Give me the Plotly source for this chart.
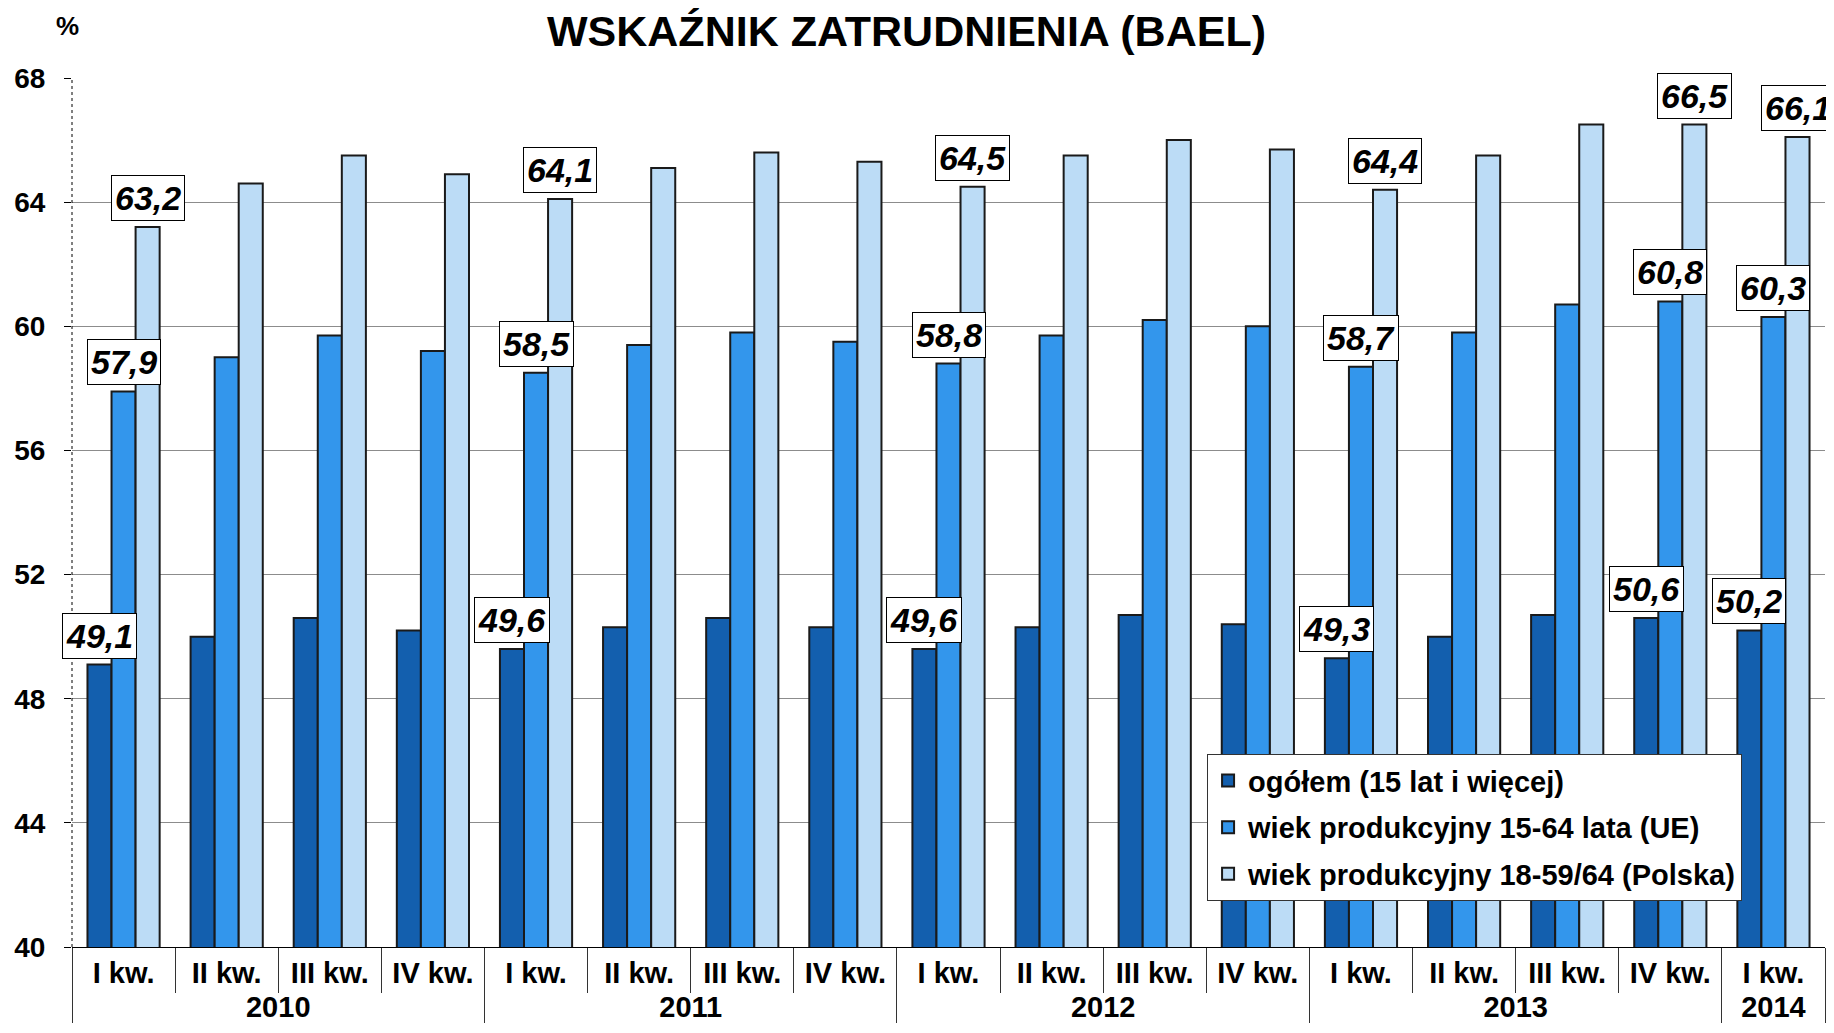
import plotly.graph_objects as go

years = ["2010"] * 4 + ["2011"] * 4 + ["2012"] * 4 + ["2013"] * 4 + ["2014"]
quarters = ["I kw.", "II kw.", "III kw.", "IV kw."] * 4 + ["I kw."]

ogolem = [49.1, 50.0, 50.6, 50.2, 49.6, 50.3, 50.6, 50.3, 49.6, 50.3, 50.7, 50.4, 49.3, 50.0, 50.7, 50.6, 50.2]
ue = [57.9, 59.0, 59.7, 59.2, 58.5, 59.4, 59.8, 59.5, 58.8, 59.7, 60.2, 60.0, 58.7, 59.8, 60.7, 60.8, 60.3]
polska = [63.2, 64.6, 65.5, 64.9, 64.1, 65.1, 65.6, 65.3, 64.5, 65.5, 66.0, 65.7, 64.4, 65.5, 66.5, 66.5, 66.1]

series_names = ["ogółem (15 lat i więcej)", "wiek produkcyjny 15-64 lata (UE)", "wiek produkcyjny 18-59/64 (Polska)"]
colors = ["#135fae", "#3396ec", "#bcdcf6"]
labeled = [0, 4, 8, 12, 15, 16]

FONT = "Liberation Sans, Arial, sans-serif"

fig = go.Figure()
all_series = [ogolem, ue, polska]
for k, (vals, name, col) in enumerate(zip(all_series, series_names, colors)):
    fig.add_trace(go.Bar(
        x=[years, quarters], y=vals, name=name, legendgroup=name,
        marker=dict(color=col, line=dict(color="#1a1a1a", width=2)),
    ))

n = len(quarters)
bargap = 0.3
bw = (1 - bargap) / 3
annotations = []
for k, vals in enumerate(all_series):
    off = -(1 - bargap) / 2 + bw * (k + 0.5)
    for i in labeled:
        xd = (i + 0.5 + off) / n
        annotations.append(dict(
            xref="x domain", yref="y", x=xd, y=vals[i], xanchor="center",
            text="<i>" + f"{vals[i]:.1f}".replace(".", ",") + "</i>",
            showarrow=False, yanchor="bottom", yshift=6,
            font=dict(family=FONT, size=34, color="black", weight="bold"),
            bgcolor="white", bordercolor="black", borderwidth=1, borderpad=3,
        ))

annotations.append(dict(
    xref="paper", yref="paper", x=0.476, y=1, xanchor="center", yanchor="top", yshift=73,
    text="WSKAŹNIK ZATRUDNIENIA (BAEL)", showarrow=False,
    font=dict(family=FONT, size=43, color="black", weight="bold"),
))
annotations.append(dict(
    xref="paper", yref="paper", x=0, y=1, xanchor="center", yanchor="middle",
    xshift=-5, yshift=52, text="%", showarrow=False,
    font=dict(family=FONT, size=26, color="black", weight="bold"),
))

fig.update_layout(
    width=1834, height=1033,
    margin=dict(l=64, r=17, t=70, b=94),
    paper_bgcolor="white", plot_bgcolor="white",
    barmode="group", bargap=bargap, bargroupgap=0,
    showlegend=True,
    legend=dict(
        x=0.6475, y=0.222, xanchor="left", yanchor="top",
        bgcolor="white", bordercolor="#333", borderwidth=1,
        font=dict(family=FONT, size=29, color="black", weight="bold"),
        traceorder="grouped", tracegroupgap=6, itemwidth=30,
    ),
    annotations=annotations,
    shapes=[dict(type="line", xref="paper", yref="paper", x0=0, x1=0, y0=0, y1=1,
                 line=dict(color="black", width=1, dash="dot"))],
)

fig.update_yaxes(
    range=[40, 68], dtick=4, showgrid=True, gridcolor="#8c8c8c", gridwidth=1,
    ticks="outside", ticklen=7, tickcolor="black", ticklabelstandoff=13,
    tickfont=dict(family=FONT, size=28, color="black", weight="bold"),
    zeroline=False, showline=False, automargin=False,
)

fig.update_xaxes(
    type="multicategory", range=[-0.5, n - 0.5], automargin=False,
    showline=True, linecolor="black", linewidth=1,
    ticks="outside", tickson="boundaries", ticklen=45, tickcolor="#333",
    showdividers=True, dividercolor="#333", dividerwidth=1,
    tickfont=dict(family=FONT, size=29, color="black", weight="bold"),
    showgrid=False,
)

fig.write_html("out.html")
